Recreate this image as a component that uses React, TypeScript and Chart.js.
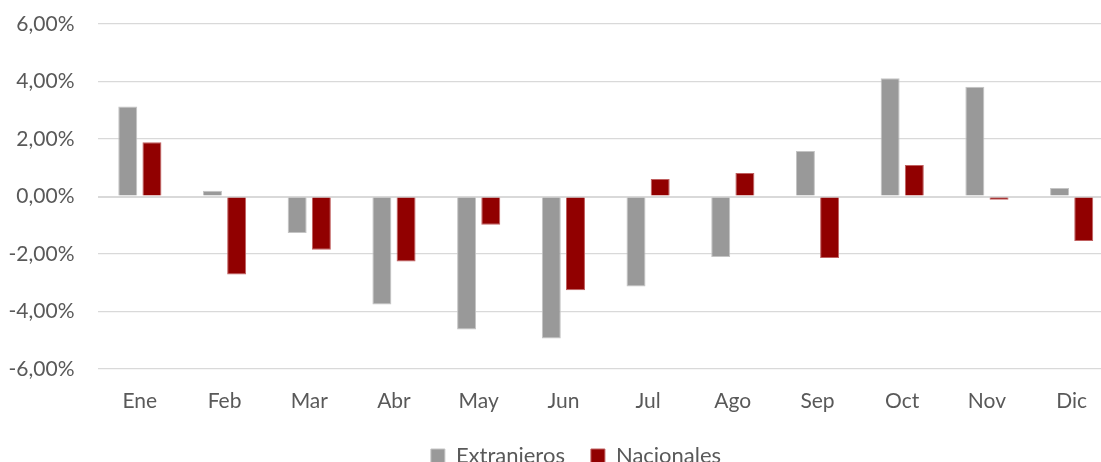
import React, { useEffect, useRef } from "react";
import { Chart, registerables } from "chart.js";

Chart.register(...registerables);

const categories = ["Ene", "Feb", "Mar", "Abr", "May", "Jun", "Jul", "Ago", "Sep", "Oct", "Nov", "Dic"];
const extranjeros = [3.13, 0.2, -1.27, -3.76, -4.63, -4.94, -3.13, -2.1, 1.58, 4.11, 3.82, 0.3];
const nacionales = [1.89, -2.71, -1.85, -2.26, -0.98, -3.26, 0.61, 0.82, -2.14, 1.1, -0.11, -1.55];
const yTicks = [-6, -4, -2, 0, 2, 4, 6];

const FONT = "Lato, 'Open Sans', sans-serif";
const TEXT = "#595959";
const W = 1142;
const H = 477;
const LEGEND_SHIFT = 19;

const legendShift = {
  id: "legendShift",
  afterLayout(chart: any) {
    const lg = chart.legend;
    if (lg) {
      lg.left += LEGEND_SHIFT;
      lg.right += LEGEND_SHIFT;
    }
  },
};

export default function App() {
  const ref = useRef<HTMLCanvasElement | null>(null);

  useEffect(() => {
    document.body.style.margin = "0";
    document.body.style.overflow = "hidden";
    if (!ref.current) return;
    const chart = new Chart(ref.current, {
      type: "bar",
      data: {
        labels: categories,
        datasets: [
          {
            label: "Extranjeros",
            data: extranjeros,
            backgroundColor: "#999999",
            borderColor: "#c4c4c4",
            borderWidth: 1,
            categoryPercentage: 0.571,
            barPercentage: 0.785,
          },
          {
            label: "Nacionales",
            data: nacionales,
            backgroundColor: "#910000",
            borderColor: "#c06060",
            borderWidth: 1,
            categoryPercentage: 0.571,
            barPercentage: 0.785,
          },
        ],
      },
      plugins: [legendShift],
      options: {
        responsive: false,
        animation: false,
        devicePixelRatio: 1,
        layout: { padding: { left: 0, top: 24, right: W - 1114, bottom: 0 } },
        plugins: {
          tooltip: { enabled: false },
          legend: {
            position: "bottom",
            labels: {
              boxWidth: 14,
              boxHeight: 14,
              padding: 26,
              color: TEXT,
              font: { family: FONT, size: 22 },
            },
          },
        },
        scales: {
          x: {
            grid: { display: false, drawTicks: false },
            border: { display: false },
            ticks: { color: TEXT, font: { family: FONT, size: 21 }, padding: 20 },
            afterFit: (s: any) => {
              s.height = 50;
            },
          },
          y: {
            min: -6,
            max: 6,
            afterBuildTicks: (s: any) => {
              s.ticks = yTicks.map((v) => ({ value: v }));
            },
            grid: {
              color: "#d9d9d9",
              lineWidth: (c: any) => (c.tick && c.tick.value === 0 ? 2 : 1.3),
              drawTicks: false,
            },
            border: { display: false },
            ticks: {
              color: TEXT,
              font: { family: FONT, size: 21 },
              padding: 23,
              callback: (v: any) => Number(v).toFixed(2).replace(".", ",") + "%",
            },
            afterFit: (s: any) => {
              s.width = 97.5;
              s.paddingTop = 0;
              s.paddingBottom = 0;
            },
          },
        },
      },
    });
    return () => chart.destroy();
  }, []);

  return (
    <div style={{ width: W, height: H, overflow: "hidden" }}>
      <canvas ref={ref} width={W} height={H} style={{ display: "block" }} />
    </div>
  );
}
